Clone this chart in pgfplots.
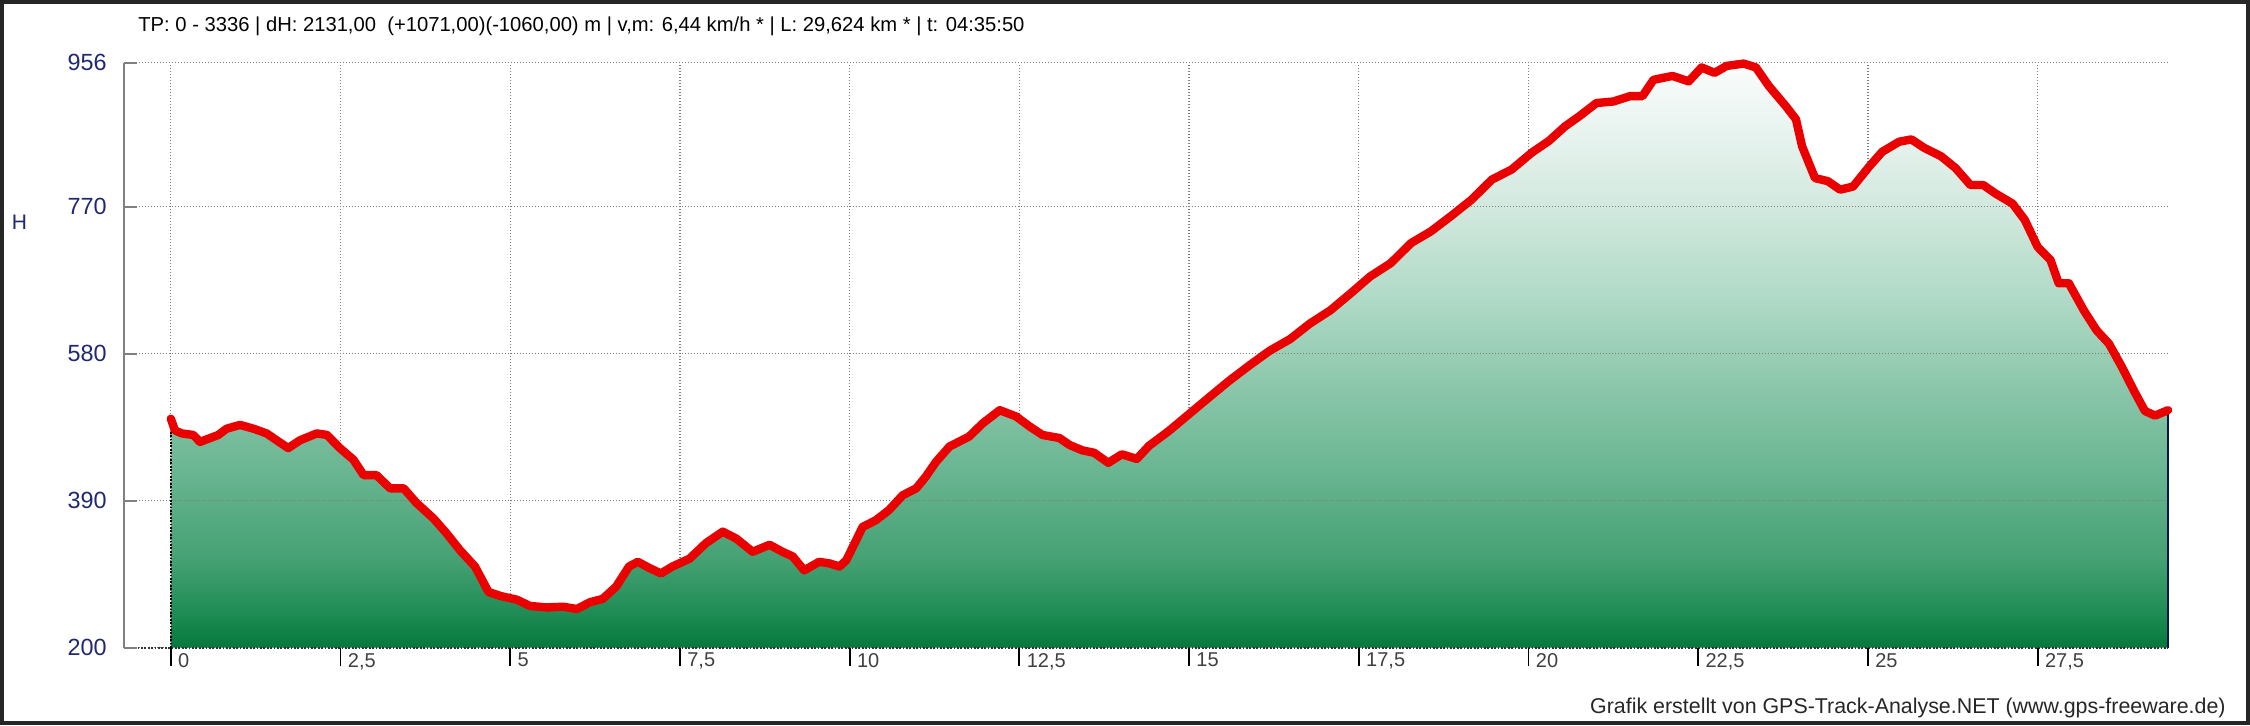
\documentclass[border=0pt]{standalone}
\usepackage{pgfplots}
\usepackage{pgfplotstable}
\pgfplotsset{compat=1.18}
\usepackage{fontspec}
\setmainfont{Liberation Sans}
\definecolor{navyl}{RGB}{32,40,112}
\definecolor{gridg}{RGB}{125,125,125}
\definecolor{axisg}{RGB}{128,128,128}
\definecolor{profred}{RGB}{235,0,0}
\definecolor{edgeblue}{RGB}{10,20,70}
\pgfdeclareverticalshading{elev}{100bp}{rgb(0bp)=(0.02,0.47,0.24); rgb(25bp)=(0.02,0.47,0.24); rgb(28bp)=(0.12,0.55,0.33); rgb(32.5bp)=(0.27,0.63,0.45); rgb(40bp)=(0.41,0.71,0.57); rgb(47.5bp)=(0.55,0.78,0.67); rgb(55bp)=(0.69,0.855,0.78); rgb(62.5bp)=(0.82,0.91,0.87); rgb(70bp)=(0.92,0.96,0.945); rgb(75bp)=(0.98,0.99,0.985); rgb(100bp)=(0.98,0.99,0.985)}

% elevation profile; first and last rows close the area on the 200 m baseline
\pgfplotstableread{
km h
0.00 200
0.00 496
0.06 481
0.16 477
0.33 475
0.43 466
0.58 471
0.70 475
0.82 483
1.02 488
1.22 483
1.41 477
1.56 468
1.73 458
1.90 468
2.15 477
2.30 475
2.49 458
2.69 443
2.84 423
3.03 423
3.23 406
3.43 406
3.62 387
3.87 367
4.06 348
4.26 326
4.48 305
4.68 272
4.85 267
5.10 262
5.29 254
5.54 252
5.78 253
5.98 250
6.18 259
6.36 263
6.56 279
6.75 305
6.88 311
7.05 303
7.22 296
7.39 305
7.64 315
7.88 335
8.13 350
8.33 341
8.57 324
8.82 333
9.01 324
9.16 318
9.33 300
9.55 311
9.70 309
9.85 305
9.95 313
10.19 356
10.39 365
10.58 378
10.78 397
10.98 406
11.12 421
11.27 440
11.47 460
11.76 473
11.96 490
12.21 507
12.45 499
12.65 486
12.84 475
13.09 471
13.24 462
13.43 455
13.60 452
13.81 439
14.01 450
14.23 444
14.41 461
14.70 480
15.00 502
15.30 524
15.59 545
15.89 565
16.19 584
16.49 599
16.78 619
17.08 636
17.38 658
17.67 680
17.97 697
18.27 723
18.56 738
18.86 758
19.16 779
19.46 805
19.75 818
20.05 840
20.30 855
20.54 874
20.75 887
21.00 904
21.25 906
21.50 913
21.68 913
21.84 934
22.12 939
22.36 932
22.55 950
22.74 943
22.92 952
23.17 955
23.35 950
23.54 926
23.79 900
23.94 883
24.03 848
24.22 807
24.41 803
24.59 792
24.78 796
25.02 822
25.21 841
25.46 854
25.64 857
25.83 846
26.08 835
26.29 820
26.51 798
26.70 798
26.88 787
27.13 774
27.31 753
27.50 718
27.69 701
27.81 671
27.96 671
28.18 636
28.37 610
28.55 593
28.74 563
28.92 532
29.08 506
29.23 500
29.42 507
29.42 200
}\proftab

\begin{document}
\begin{tikzpicture}
\path[use as bounding box] (0,0) rectangle (1125pt,362.5pt);
\begin{axis}[
  at={(62pt,38.65pt)}, anchor=south west,
  scale only axis, width=1022pt, height=292.45pt,
  xmin=-0.69, xmax=29.42, ymin=200, ymax=956,
  clip=false,
  axis line style={draw=none},
  tick style={draw=none},
  major tick length=0pt,
  xtick={0,2.5,5,7.5,10,12.5,15,17.5,20,22.5,25,27.5},
  xticklabels={0,{2,5},5,{7,5},10,{12,5},15,{17,5},20,{22,5},25,{27,5}},
  ytick={200,390,580,770,956},
  yticklabels={200,390,580,770,956},
  xticklabel style={anchor=north west, inner sep=0pt, xshift=3.5pt, yshift=-2.5pt, font=\fontsize{10}{11}\selectfont, text=black!75},
  yticklabel style={anchor=east, inner sep=0pt, xshift=-8.5pt, font=\fontsize{11.7}{12}\selectfont, text=navyl},
  grid=major,
  major grid style={gridg, line width=0.6pt, dash pattern=on 0.6pt off 0.9pt},
]
\addplot[shade, shading=elev, draw=none] table[x=km,y=h]{\proftab} -- cycle;
\addplot[gridg, line width=0.6pt, dash pattern=on 0.6pt off 0.9pt] coordinates {(-0.69,390) (29.42,390)};
\addplot[gridg, line width=0.6pt, dash pattern=on 0.6pt off 0.9pt] coordinates {(-0.69,580) (29.42,580)};
\addplot[gridg, line width=0.6pt, dash pattern=on 0.6pt off 0.9pt] coordinates {(-0.69,770) (29.42,770)};
\addplot[black, line width=0.9pt, dash pattern=on 0.9pt off 0.8pt] coordinates {(0,200) (0,496)};
\addplot[edgeblue, line width=1.1pt] coordinates {(29.42,200) (29.42,507)};
\addplot[profred, line width=4.2pt, line join=round, line cap=round, restrict y to domain=201:2000, unbounded coords=discard] table[x=km,y=h]{\proftab};
\draw[axisg, line width=1pt] (axis cs:-0.69,200) -- (axis cs:-0.69,956);
\draw[black!80, line width=0.9pt, dash pattern=on 0.9pt off 0.8pt] (axis cs:-0.69,200) -- (axis cs:29.42,200);
\pgfplotsinvokeforeach{200,390,580,770,956}{\draw[axisg, line width=1pt] (axis cs:-0.69,#1) -- ++(6.5pt,0pt);}
\pgfplotsinvokeforeach{0,2.5,5,7.5,10,12.5,15,17.5,20,22.5,25,27.5}{\draw[black, line width=0.9pt] (axis cs:#1,200) -- ++(0pt,-9pt);}
\end{axis}
\node[anchor=base west, inner sep=0pt, font=\fontsize{10.1}{12}\selectfont] at (69pt,346.65pt) {TP: 0 - 3336 | dH: 2131,00\ \ (+1071,00)(-1060,00) m | v,m: 6,44 km/h * | L: 29,624 km * | t: 04:35:50};
\node[inner sep=0pt, font=\fontsize{10.5}{12}\selectfont, text=navyl] at (9.75pt,251.25pt) {H};
\node[anchor=base east, inner sep=0pt, font=\fontsize{10.7}{12}\selectfont, text=black!85] at (1113pt,6pt) {Grafik erstellt von GPS-Track-Analyse.NET (www.gps-freeware.de)};
\draw[black!85, line width=2pt] (1pt,1pt) rectangle (1124pt,361.5pt);
\end{tikzpicture}
\end{document}
